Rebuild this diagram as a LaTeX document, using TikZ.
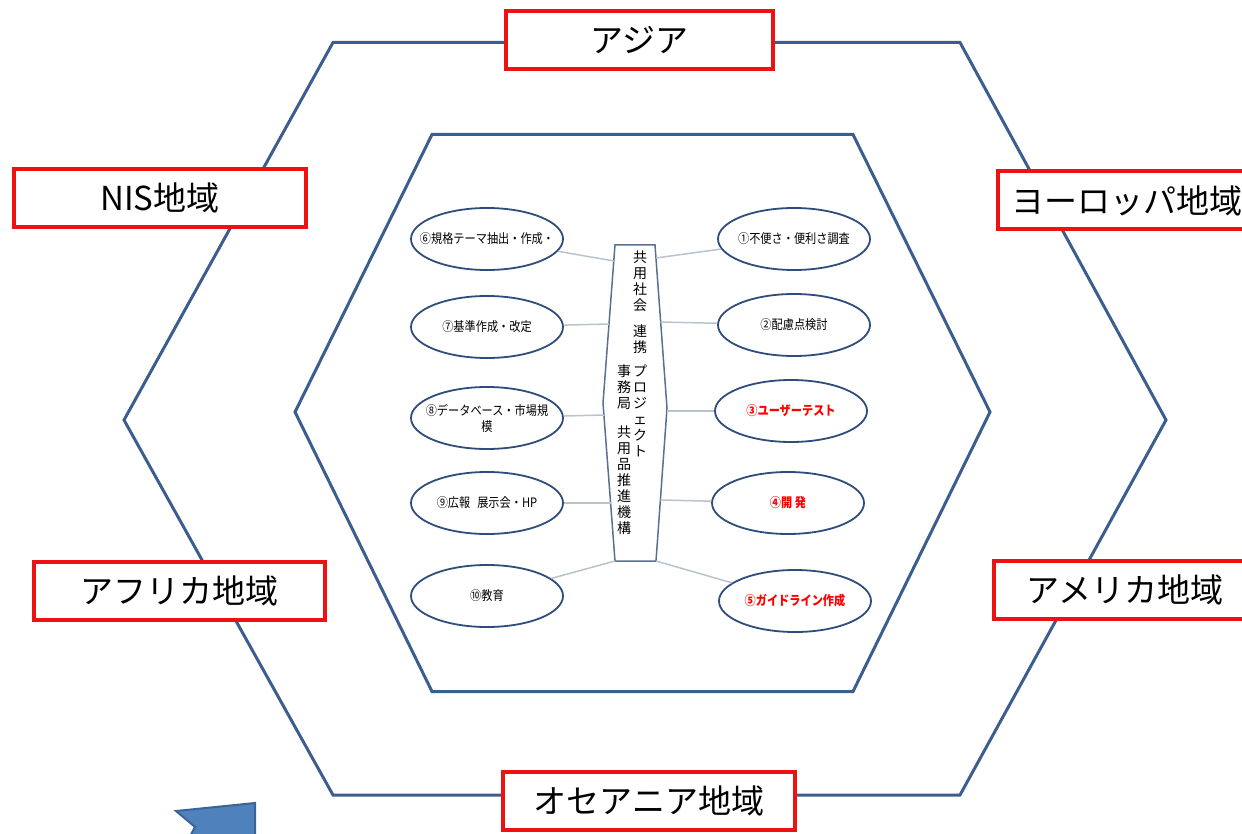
\documentclass[tikz,border=0pt]{standalone}
\usepackage{fontspec}
\setmainfont{Noto Sans CJK JP}
\newfontfamily\taskfont[FakeStretch=0.86]{Noto Sans CJK JP}
\usetikzlibrary{shapes.geometric}

\definecolor{hexblue}{HTML}{3C5E8E}
\definecolor{ovalblue}{HTML}{2E4D7B}
\definecolor{hubgray}{HTML}{5A7090}
\definecolor{linkgray}{HTML}{B9C3CC}
\definecolor{boxred}{HTML}{EE1111}
\definecolor{arrowfill}{HTML}{4F81BD}
\definecolor{arrowline}{HTML}{3A6496}

\tikzset{
  region/.style={draw=boxred,line width=4pt,fill=white,minimum height=58pt,inner sep=0pt,font=\fontsize{33}{36}\selectfont},
  task/.style={ellipse,draw=ovalblue,line width=1.8pt,minimum width=152pt,minimum height=62pt,inner xsep=-15pt,inner ysep=0pt,align=center,font=\taskfont\fontsize{13}{16}\selectfont},
  redtask/.style={task,text=red,font=\taskfont\fontsize{13}{16}\selectfont\bfseries},
  vtext/.style={inner sep=0pt,align=center,font=\fontsize{14}{16}\selectfont},
  link/.style={draw=linkgray,line width=1.5pt},
}

\begin{document}
\begin{tikzpicture}[x=1pt,y=-1pt]
\useasboundingbox (0,0) rectangle (1242,834);

% outer hexagon
\draw[hexblue,line width=3pt] (333,42.5) -- (960,42.5) -- (1166,420) -- (960,795) -- (333,795) -- (124,420) -- cycle;

% inner hexagon
\draw[hexblue,line width=3pt] (432,134.5) -- (853,134.5) -- (990,412) -- (853,691.5) -- (432,691.5) -- (295,412) -- cycle;

% center box
\draw[hubgray,line width=1.5pt] (615,245) -- (655,245) -- (667,408) -- (656,561) -- (615,561) -- (603,403) -- cycle;
\node[vtext,anchor=north] (hub right) at (640,251) {共\\用\\社\\会\\[10pt]連\\携\\[8pt]プ\\ロ\\ジ\\ェ\\ク\\ト};
\node[vtext,anchor=north] (hub left) at (624,365) {事\\務\\局\\[13pt]共\\用\\品\\推\\進\\機\\構};

% hub ends of the links
\coordinate (h6) at (614,261);
\coordinate (h7) at (609,324);
\coordinate (h8) at (604,415);
\coordinate (h9) at (610.5,503);
\coordinate (h10) at (615,561);
\coordinate (h1) at (656,258);
\coordinate (h2) at (660.5,322);
\coordinate (h3) at (667,411);
\coordinate (h4) at (660.5,500);
\coordinate (h5) at (656,561);

% left task nodes
\node[task] (t6) at (487,239) {⑥規格テーマ抽出・作成・};
\node[task] (t7) at (487,327) {⑦基準作成・改定};
\node[task] (t8) at (487,418) {⑧データベース・市場規\\模};
\node[task] (t9) at (487,503) {⑨広報\hspace{7pt}展示会・HP};
\node[task] (t10) at (487,596) {⑩教育};

% right task nodes
\node[task] (t1) at (794,239) {①不便さ・便利さ調査};
\node[task] (t2) at (794,325) {②配慮点検討};
\node[redtask] (t3) at (791,411) {③ユーザーテスト};
\node[redtask] (t4) at (788,503) {④開 発};
\node[redtask] (t5) at (795,601) {⑤ガイドライン作成};

\draw[link] (t6) -- (h6);
\draw[link] (t7) -- (h7);
\draw[link] (t8) -- (h8);
\draw[link] (t9) -- (h9);
\draw[link] (t10) -- (h10);
\draw[link] (h1) -- (t1);
\draw[link] (h2) -- (t2);
\draw[link] (h3) -- (t3);
\draw[link] (h4) -- (t4);
\draw[link] (h5) -- (t5);

% region nodes
\node[region,minimum width=267pt] (asia) at (639.5,40.5) {アジア};
\node[region,minimum width=292pt] (nis) at (160,198) {NIS地域};
\node[region,minimum width=258pt] (europe) at (1127,200.5) {ヨーロッパ地域};
\node[region,minimum width=291pt] (africa) at (179.5,591) {アフリカ地域};
\node[region,minimum width=262pt] (america) at (1125,590) {アメリカ地域};
\node[region,minimum width=292pt] (oceania) at (649,800.5) {オセアニア地域};

% blue arrow
\filldraw[fill=arrowfill,draw=arrowline,line width=2pt] (176,811) -- (255,803) -- (255,842) -- (187,842) -- (195,827) -- cycle;

\end{tikzpicture}
\end{document}
